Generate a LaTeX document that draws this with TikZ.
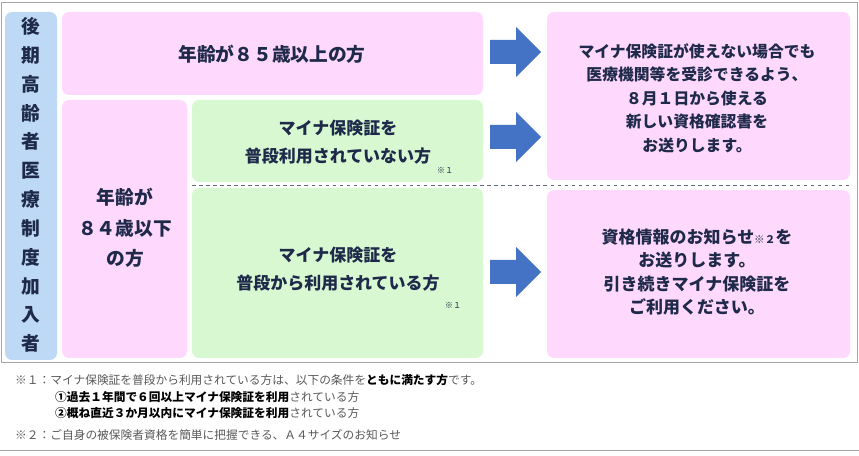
\documentclass[tikz,border=0pt]{standalone}
\usepackage{fontspec}
\setmainfont{Noto Sans CJK JP}
\usetikzlibrary{positioning}
\definecolor{pinkbox}{HTML}{FFD9FD}
\definecolor{greenbox}{HTML}{D8F8D2}
\definecolor{bluebox}{HTML}{BDD9F5}
\definecolor{navytext}{HTML}{1F2A4A}
\definecolor{arrowblue}{HTML}{4472C4}
\definecolor{notegray}{HTML}{595959}
\tikzset{
  box/.style={rounded corners=6pt, draw=none},
  big/.style={text=navytext, font=\fontsize{16}{24}\selectfont\bfseries, align=center},
  refmark/.style={text=navytext, font=\fontsize{7}{8}\selectfont},
  note/.style={text=notegray, font=\fontsize{10}{12}\selectfont, anchor=west, inner sep=0pt}
}
\newcommand{\blockarr}[1]{\fill[arrowblue] (490,#1-12) -- (516,#1-12) -- (516,#1-25) -- (541,#1) -- (516,#1+25) -- (516,#1+12) -- (490,#1+12) -- cycle;}
\begin{document}
\begin{tikzpicture}[x=0.03cm,y=-0.03cm]
    \useasboundingbox (0,0) rectangle (859,456);
    \fill[white] (0,0) rectangle (859,456);
    \draw[gray!70] (1,2) rectangle (857,362);
    \draw[gray!70] (0,450) -- (859,450);

    \fill[box, bluebox] (5,12) rectangle (57,360);
    \fill[box, pinkbox] (62,12) rectangle (483,95);
    \fill[box, pinkbox] (62,100) rectangle (187,358);
    \fill[box, greenbox] (192,100) rectangle (483,182);
    \fill[box, greenbox] (192,188) rectangle (483,358);
    \fill[box, pinkbox] (547,12) rectangle (850,180);
    \fill[box, pinkbox] (547,190) rectangle (850,358);
    \draw[dashed, thick, navytext!70] (192,185) -- (850,185);

    \node[big, font=\fontsize{16}{24.6}\selectfont\bfseries] (members) at (31,185) {後\\期\\高\\齢\\者\\医\\療\\制\\度\\加\\入\\者};
    \node[big] (over85) at (272,54) {年齢が８５歳以上の方};
    \node[big, font=\fontsize{16}{26}\selectfont\bfseries] (under84) at (125,228) {年齢が\\８４歳以下\\の方};
    \node[big, font=\fontsize{14.5}{24}\selectfont\bfseries] (notuse) at (338,142) {マイナ保険証を\\普段利用されていない方};
    \node[refmark] (mark1a) at (445,170) {※１};
    \node[big, font=\fontsize{14.5}{24}\selectfont\bfseries] (use) at (338,269) {マイナ保険証を\\普段から利用されている方};
    \node[refmark] (mark1b) at (453,305) {※１};
    \node[big, font=\fontsize{13.5}{20}\selectfont\bfseries] (cert) at (697,98) {マイナ保険証が使えない場合でも\\医療機関等を受診できるよう、\\８月１日から使える\\新しい資格確認書を\\お送りします。};
    \node[big, font=\fontsize{14.5}{20}\selectfont\bfseries] (info) at (697,272) {資格情報のお知らせ{\fontsize{9}{9}\selectfont ※２}を\\お送りします。\\引き続きマイナ保険証を\\ご利用ください。};

    \blockarr{52}
    \blockarr{137}
    \blockarr{272}

    \node[note] (n1) at (15,380) {※１：マイナ保険証を普段から利用されている方は、以下の条件を{\color{black}\bfseries ともに満たす方}です。};
    \node[note] (n2) at (55,397) {{\color{black}\bfseries ①過去１年間で６回以上マイナ保険証を利用}されている方};
    \node[note] (n3) at (55,413) {{\color{black}\bfseries ②概ね直近３か月以内にマイナ保険証を利用}されている方};
    \node[note] (n4) at (15,435) {※２：ご自身の被保険者資格を簡単に把握できる、Ａ４サイズのお知らせ};
\end{tikzpicture}
\end{document}
